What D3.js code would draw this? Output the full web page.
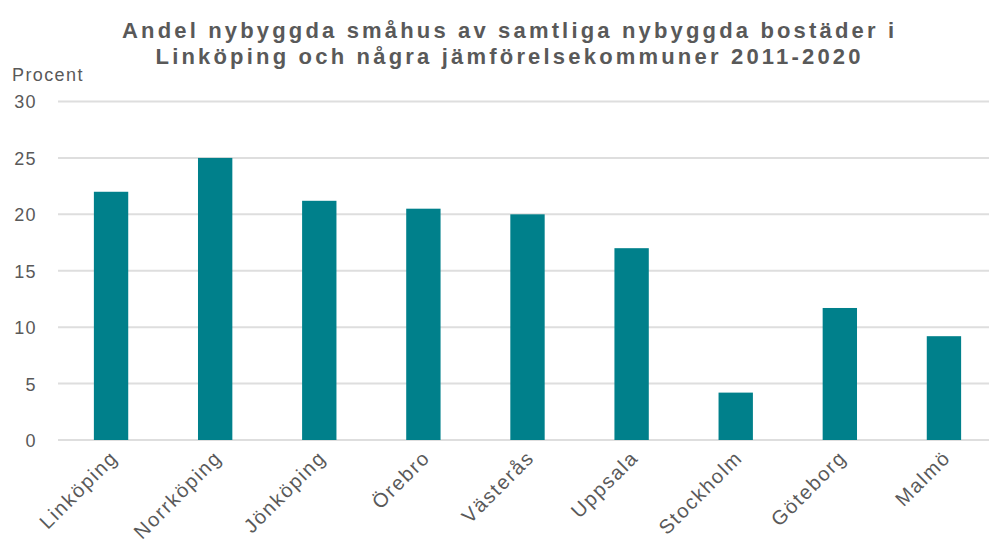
<!DOCTYPE html>
<html>
<head>
<meta charset="utf-8">
<script src="https://cdn.jsdelivr.net/npm/d3@7"></script>
<style>
	body { margin: 0; background: #fff; }
	svg { display: block; font-family: "Liberation Sans", Arial, sans-serif; }
</style>
</head>
<body>
<svg width="989" height="545"></svg>
<script>
// Data
const kommuner = ["Linköping", "Norrköping", "Jönköping", "Örebro", "Västerås", "Uppsala", "Stockholm", "Göteborg", "Malmö"];
const andel = [22.0, 25.0, 21.2, 20.5, 20.0, 17.0, 4.2, 11.7, 9.2];
const yTicks = [0, 5, 10, 15, 20, 25, 30];
const titleLines = [
	"Andel nybyggda småhus av samtliga nybyggda bostäder i",
	"Linköping och några jämförelsekommuner 2011-2020"
];
const titleWidths = [772, 705];

const svg = d3.select("svg");
const textColor = "#595959";

// Scales
const x = d3.scaleBand().domain(kommuner).range([59, 996]).paddingInner(0.67).paddingOuter(0.335);
const y = d3.scaleLinear().domain([0, 30]).range([440, 101.5]);

// Gridlines
svg.append("g")
	.selectAll("line")
	.data(yTicks)
	.join("line")
	.attr("x1", 58)
	.attr("x2", 989)
	.attr("y1", (d) => y(d))
	.attr("y2", (d) => y(d))
	.attr("stroke", "#dedede")
	.attr("stroke-width", 2);

// Y axis labels
const yAxis = svg.append("g")
	.attr("transform", "translate(37,0)")
	.call(d3.axisLeft(y).tickValues(yTicks).tickSize(0).tickPadding(0));
yAxis.select(".domain").remove();
yAxis.selectAll("text")
	.attr("fill", textColor)
	.style("font-size", "18px")
	.style("letter-spacing", "1.4px")
	.attr("dy", "0.36em");

svg.append("text")
	.attr("x", 12)
	.attr("y", 81)
	.attr("fill", textColor)
	.style("font-size", "18px")
	.style("letter-spacing", "1.4px")
	.text("Procent");

// Bars
svg.append("g")
	.selectAll("rect")
	.data(kommuner)
	.join("rect")
	.attr("x", (d) => x(d))
	.attr("width", x.bandwidth())
	.attr("y", (d, i) => y(andel[i]))
	.attr("height", (d, i) => y(0) - y(andel[i]))
	.attr("fill", "#00808b");

// X labels
svg.append("g")
	.selectAll("text")
	.data(kommuner)
	.join("text")
	.attr("transform", (d) => `translate(${x(d) + x.bandwidth() / 2 + 8},${459}) rotate(-45)`)
	.attr("text-anchor", "end")
	.attr("fill", textColor)
	.style("font-size", "20px")
	.style("letter-spacing", "1.7px")
	.text((d) => d);

// Title
svg.append("g")
	.selectAll("text")
	.data(titleLines)
	.join("text")
	.attr("x", 508)
	.attr("y", (d, i) => 38 + i * 26)
	.attr("text-anchor", "middle")
	.attr("fill", textColor)
	.attr("textLength", (d, i) => titleWidths[i])
	.attr("lengthAdjust", "spacing")
	.style("font-size", "22px")
	.style("font-weight", "bold")
	.text((d) => d);
</script>
</body>
</html>
